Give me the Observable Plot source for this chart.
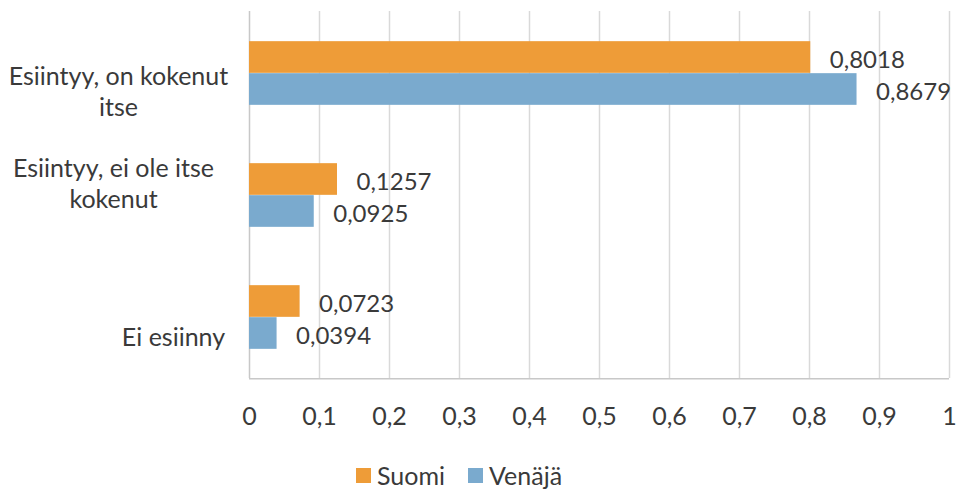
<!DOCTYPE html>
<html>
<head>
<meta charset="utf-8">
<script src="https://cdn.jsdelivr.net/npm/d3@7"></script>
<script src="https://cdn.jsdelivr.net/npm/@observablehq/plot@0.6"></script>
<style>
  html, body { margin: 0; padding: 0; background: #fff; }
  #chart { width: 960px; }
  .legend { position: relative; height: 46px; font-family: Lato, sans-serif; font-size: 25px; color: #3a3a3a; }
  .legend .item { position: absolute; top: 18px; display: flex; align-items: center; line-height: 25px; }
  .legend .sw { width: 15px; height: 15px; margin-right: 6px; }
</style>
</head>
<body>
<div id="chart"></div>
<script>
const categories = ["Esiintyy, on kokenut itse", "Esiintyy, ei ole itse kokenut", "Ei esiinny"];
const categoryLabels = ["Esiintyy, on kokenut\nitse", "Esiintyy, ei ole itse\nkokenut", "Ei esiinny"];
const series = ["Suomi", "Venäjä"];
const suomi = [0.8018, 0.1257, 0.0723];
const venaja = [0.8679, 0.0925, 0.0394];
const xTicks = [0, 0.1, 0.2, 0.3, 0.4, 0.5, 0.6, 0.7, 0.8, 0.9, 1];
const xTickLabels = ["0", "0,1", "0,2", "0,3", "0,4", "0,5", "0,6", "0,7", "0,8", "0,9", "1"];
const colors = ["#EE9C38", "#7AAACE"];

const data = categories.flatMap((c, i) => [
  {category: c, series: "Suomi", value: suomi[i]},
  {category: c, series: "Venäjä", value: venaja[i]}
]);
const fmt = v => String(v).replace(".", ",");

const W = 960, H = 445, mT = 11, mB = 67, mL = 249, mR = 11;
const band = (H - mT - mB) / categories.length;
const barH = 32;
const outer = (band - 2 * barH) / 2;

const labelStyle = [
  {dx: -131, dy: 17},
  {dx: -136, dy: -13},
  {dx: -76, dy: 19}
];

const textColor = "#3a3a3a";

const plot = Plot.plot({
  width: W, height: H,
  marginTop: mT, marginBottom: mB, marginLeft: mL, marginRight: mR,
  style: {fontFamily: "Lato, sans-serif", fontSize: "24px", color: textColor, background: "#fff"},
  x: {domain: [0, 1], label: null},
  y: {domain: categories, padding: 0, axis: null},
  color: {domain: series, range: colors},
  marks: [
    Plot.ruleX(xTicks.slice(1), {stroke: "#D9D9D9", strokeWidth: 1.5}),
    Plot.ruleX([0], {stroke: "#C8C8C8", strokeWidth: 1.5}),
    Plot.ruleY([categories[categories.length - 1]], {x1: 0, x2: 1, stroke: "#C8C8C8", strokeWidth: 1.5, dy: band / 2}),
    Plot.barX(data.filter(d => d.series === "Suomi"), {x: "value", y: "category", fill: "series", insetTop: outer, insetBottom: band - outer - barH}),
    Plot.barX(data.filter(d => d.series === "Venäjä"), {x: "value", y: "category", fill: "series", insetTop: outer + barH, insetBottom: outer}),
    Plot.text(data.filter(d => d.series === "Suomi"), {x: "value", y: "category", text: d => fmt(d.value), textAnchor: "start", dx: 19, dy: -(band / 2 - outer - barH / 2) + 3, fill: textColor, fontSize: 24}),
    Plot.text(data.filter(d => d.series === "Venäjä"), {x: "value", y: "category", text: d => fmt(d.value), textAnchor: "start", dx: 19, dy: (band / 2 - outer - barH / 2) + 3, fill: textColor, fontSize: 24}),
    ...categories.map((c, i) => Plot.text([c], {
      y: d => d, text: () => categoryLabels[i], frameAnchor: "left", textAnchor: "middle",
      dx: labelStyle[i].dx, dy: labelStyle[i].dy, lineHeight: 1.22, fill: textColor, fontSize: 25
    })),
    Plot.axisX(xTicks, {tickSize: 0, tickPadding: 29, tickFormat: (d, i) => xTickLabels[i], fill: textColor, fontSize: 25, label: null})
  ]
});
document.getElementById("chart").append(plot);

const legend = document.createElement("div");
legend.className = "legend";
const lefts = [356, 468];
series.forEach((s, i) => {
  const item = document.createElement("div");
  item.className = "item";
  item.style.left = lefts[i] + "px";
  const sw = document.createElement("div");
  sw.className = "sw";
  sw.style.background = colors[i];
  const t = document.createElement("span");
  t.textContent = s;
  item.append(sw, t);
  legend.append(item);
});
document.getElementById("chart").append(legend);
</script>
</body>
</html>
